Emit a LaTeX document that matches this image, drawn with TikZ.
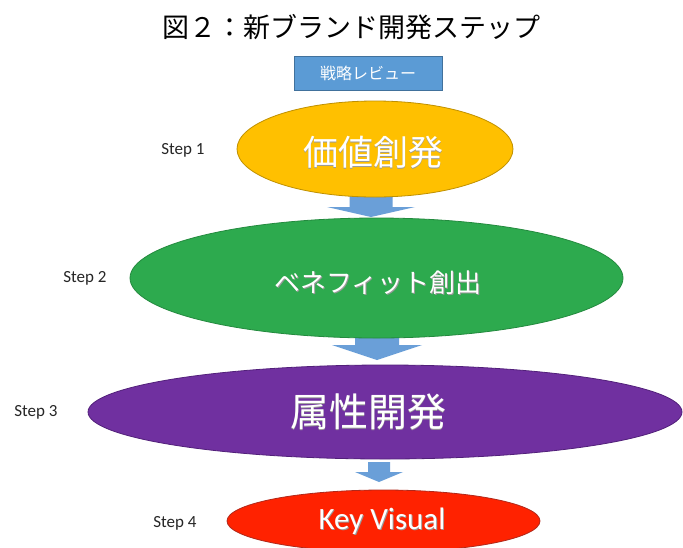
\documentclass[tikz,border=0pt]{standalone}
\usepackage{fontspec}
\setmainfont{Carlito}
\newfontfamily\jp{Noto Sans CJK JP}
\usetikzlibrary{shapes.geometric}
\definecolor{boxblue}{HTML}{5B9BD5}
\definecolor{boxblueline}{HTML}{41719C}
\definecolor{arrowblue}{HTML}{6A9FD8}
\definecolor{ey}{HTML}{FFC000}
\definecolor{eyl}{HTML}{BF9000}
\definecolor{eg}{HTML}{2DAA4E}
\definecolor{egl}{HTML}{238A3E}
\definecolor{ep}{HTML}{7030A0}
\definecolor{epl}{HTML}{52207A}
\definecolor{er}{HTML}{FF2200}
\definecolor{erl}{HTML}{B0281A}
\newcommand\shtext[1]{\leavevmode\rlap{\kern0.9pt\raisebox{-0.9pt}{\textcolor{black!40}{#1}}}#1}
\newcommand\blockarrow[6]{\fill[barrow] (#1-#3,#2) -- (#1+#3,#2) -- (#1+#3,#5) -- (#1+#4,#5) -- (#1,#6) -- (#1-#4,#5) -- (#1-#3,#5) -- cycle;}
\begin{document}
\begin{tikzpicture}[x=1pt,y=-1pt,
  ell/.style={ellipse, inner sep=0pt, line width=0.8pt},
  etext/.style={text=white, inner sep=0pt},
  steplabel/.style={font=\fontsize{17}{20}\selectfont, text=black!85, inner sep=0pt},
  barrow/.style={fill=arrowblue, draw=none}]
\clip (0,0) rectangle (683,547);
\fill[white] (0,0) rectangle (683,547);

% title
\node[inner sep=0pt, font=\jp\fontsize{27}{32}\selectfont] (title) at (351,27) {図２：新ブランド開発ステップ};

% strategy review box
\node[draw=boxblueline, fill=boxblue, minimum width=148pt, minimum height=34pt, inner sep=0pt,
      line width=0.6pt, text=white, font=\jp\fontsize{16}{18}\selectfont] (review) at (368,73) {戦略レビュー};

% block arrows
\blockarrow{371}{196}{21.5}{44}{207}{217}
\blockarrow{377}{334}{22}{45}{345}{360}
\blockarrow{379}{462}{11}{24}{472}{482}

% ellipses
\node[ell, fill=ey, draw=eyl, minimum width=276pt, minimum height=96pt] (e1) at (375,149) {};
\node[etext, font=\jp\fontsize{35}{40}\selectfont] (t1) at (373,153) {\shtext{価値創発}};

\node[ell, fill=eg, draw=egl, minimum width=493pt, minimum height=120pt] (e2) at (376.5,278) {};
\node[etext, font=\jp\fontsize{26}{30}\selectfont] (t2) at (378,283) {\shtext{ベネフィット創出}};

\node[ell, fill=ep, draw=epl, minimum width=594pt, minimum height=94pt] (e3) at (385,412) {};
\node[etext, font=\jp\fontsize{39}{44}\selectfont] (t3) at (368,412) {\shtext{属性開発}};

\node[ell, fill=er, draw=erl, minimum width=313pt, minimum height=62pt] (e4) at (383.5,521) {};
\node[etext, font=\fontsize{31}{36}\selectfont] (t4) at (382,522) {\shtext{Key Visual}};

% step labels
\node[steplabel] (s1) at (183,150) {Step 1};
\node[steplabel] (s2) at (85,278) {Step 2};
\node[steplabel] (s3) at (36,412) {Step 3};
\node[steplabel] (s4) at (175,523) {Step 4};
\end{tikzpicture}
\end{document}
